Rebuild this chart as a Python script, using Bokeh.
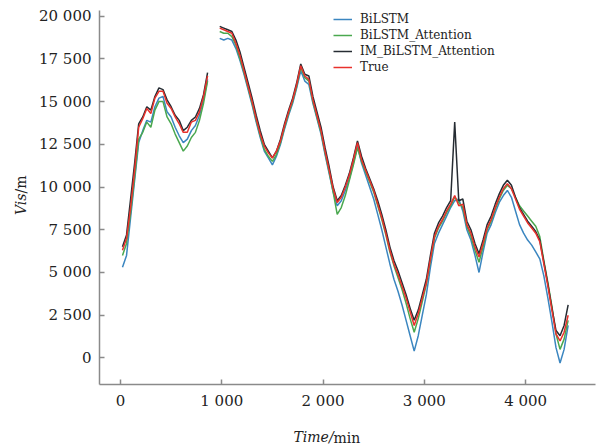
import math
import numpy as np
from bokeh.plotting import figure
from bokeh.models import FixedTicker, Label, Range1d, Legend, LegendItem, Title
from bokeh.core.enums import CoordinateUnits
from bokeh.embed import file_html
from bokeh.resources import INLINE

nan = float("nan")

# ---- data ----
time_min = [20, 60, 100, 140, 180, 220, 260, 300, 340, 380, 420, 460, 500, 540, 580, 620, 660, 700, 740, 780,
            820, 860, 900, 940, 980, 1020, 1060, 1100, 1140, 1180, 1220, 1260, 1300, 1340, 1380, 1420, 1460,
            1500, 1540, 1580, 1620, 1660, 1700, 1740, 1780, 1820, 1860, 1900, 1940, 1980, 2020, 2060, 2100,
            2140, 2180, 2220, 2260, 2300, 2340, 2380, 2420, 2460, 2500, 2540, 2580, 2620, 2660, 2700, 2740,
            2780, 2820, 2860, 2900, 2940, 2980, 3020, 3060, 3100, 3140, 3180, 3220, 3260, 3300, 3340, 3380,
            3420, 3460, 3500, 3540, 3580, 3620, 3660, 3700, 3740, 3780, 3820, 3860, 3900, 3940, 3980, 4020,
            4060, 4100, 4140, 4180, 4220, 4260, 4300, 4340, 4380, 4420]

true_vis = [6300, 7000, 8800, 11000, 13500, 14000, 14600, 14300, 15200, 15600, 15600, 14900, 14600, 14100,
            13700, 13200, 13200, 13800, 13900, 14400, 15300, 16500, nan, nan, 19300, 19200, 19100, 19000,
            18400, 17700, 16800, 15900, 15000, 14000, 13100, 12400, 12000, 11700, 12100, 12700, 13600, 14400,
            15100, 16000, 17100, 16500, 16300, 15100, 14200, 13300, 12100, 11000, 9900, 9100, 9400, 10000,
            10700, 11600, 12600, 11600, 11000, 10400, 9800, 9000, 8200, 7300, 6300, 5500, 4900, 4200, 3500,
            2700, 1900, 2600, 3500, 4400, 5800, 7100, 7700, 8100, 8600, 9000, 9500, 8900, 9000, 7800, 7300,
            6500, 5900, 6700, 7600, 8100, 8800, 9400, 9900, 10200, 9900, 9300, 8700, 8300, 7900, 7600, 7300,
            6800, 5500, 4200, 2800, 1400, 1000, 1500, 2500]

bilstm = [5300, 6000, 8200, 10400, 12600, 13300, 13900, 13800, 14700, 15200, 15300, 14400, 14100, 13500,
          13000, 12600, 12800, 13300, 13600, 14200, 15100, 16300, nan, nan, 18700, 18600, 18700, 18600,
          18100, 17400, 16600, 15700, 14800, 13800, 12900, 12100, 11700, 11300, 11800, 12500, 13400, 14200,
          14900, 15800, 16800, 16200, 16000, 14900, 14000, 13100, 11900, 10800, 9700, 8900, 9200, 9800,
          10500, 11400, 12400, 11400, 10700, 10000, 9300, 8400, 7500, 6500, 5500, 4600, 3900, 3100, 2200,
          1300, 400, 1300, 2500, 3700, 5300, 6700, 7300, 7800, 8300, 8800, 9200, 9300, 8600, 7500, 6900,
          6000, 5000, 6200, 7300, 7800, 8500, 9100, 9500, 9800, 9400, 8600, 7800, 7300, 6900, 6600, 6200,
          5800, 4800, 3500, 2100, 600, -300, 500, 1900]

bilstm_att = [6000, 6700, 8500, 10600, 12800, 13200, 13800, 13500, 14500, 15000, 15000, 14100, 13700, 13100,
              12600, 12100, 12400, 12900, 13200, 13900, 14900, 16200, nan, nan, 19100, 19000, 19000, 18800,
              18300, 17500, 16700, 15800, 14900, 13900, 13000, 12200, 11800, 11500, 11900, 12600, 13500, 14300,
              15000, 15900, 17000, 16400, 16200, 15000, 14100, 13200, 12000, 10900, 9700, 8400, 8800, 9500,
              10400, 11300, 12300, 11500, 10900, 10300, 9700, 8900, 8100, 7200, 6200, 5400, 4700, 4000, 3200,
              2300, 1500, 2300, 3300, 4300, 5700, 7000, 7600, 8000, 8500, 8900, 9400, 9100, 8800, 7700, 7100,
              6300, 5600, 6500, 7500, 8000, 8700, 9300, 9800, 10100, 9900, 9400, 8900, 8600, 8300, 8000, 7700,
              7100, 5700, 4400, 3000, 1400, 500, 1100, 2200]

im_bilstm_att = [6500, 7200, 9300, 11400, 13700, 14100, 14700, 14500, 15300, 15800, 15700, 15100, 14700, 14200,
                 13900, 13300, 13500, 13900, 14100, 14600, 15400, 16700, nan, nan, 19400, 19300, 19200, 19100,
                 18600, 17900, 17000, 16100, 15200, 14200, 13300, 12500, 12100, 11700, 12100, 12800, 13700, 14500,
                 15200, 16100, 17200, 16600, 16500, 15300, 14400, 13500, 12300, 11200, 10000, 9200, 9500, 10100,
                 10800, 11700, 12700, 11800, 11100, 10500, 9900, 9200, 8400, 7500, 6500, 5700, 5100, 4400, 3700,
                 2900, 2200, 2800, 3700, 4600, 6000, 7300, 7900, 8300, 8800, 9200, 13800, 9200, 9300, 8000, 7500,
                 6700, 6100, 6900, 7800, 8300, 9000, 9600, 10100, 10400, 10100, 9400, 8800, 8400, 8000, 7700, 7400,
                 6900, 5600, 4300, 2900, 1600, 1300, 1900, 3100]

series_names = ["BiLSTM", "BiLSTM_Attention", "IM_BiLSTM_Attention", "True"]

x_ticks = [0, 1000, 2000, 3000, 4000]
x_tick_labels = ["0", "1 000", "2 000", "3 000", "4 000"]
y_ticks = [0, 2500, 5000, 7500, 10000, 12500, 15000, 17500, 20000]
y_tick_labels = ["0", "2 500", "5 000", "7 500", "10 000", "12 500", "15 000", "17 500", "20 000"]

# ---- figure ----
FONT = "DejaVu Serif"
TXT = "#222222"
p = figure(width=600, height=444, output_backend="svg", toolbar_location=None,
           x_range=Range1d(-207, 4690), y_range=Range1d(-1555, 20330),
           min_border_left=99, min_border_right=5, min_border_top=10, min_border_bottom=58)
p.outline_line_color = None
p.grid.visible = False
p.background_fill_color = "white"

colors = ["#3b86c0", "#4aa84f", "#262c33", "#e8312c"]
ys = [bilstm, bilstm_att, im_bilstm_att, true_vis]
t = np.array(time_min, dtype=float)
renderers = []
for name, vals, col in zip(series_names, ys, colors):
    r = p.line(t, np.array(vals, dtype=float), line_color=col, line_width=1.5)
    renderers.append(r)

for ax, ticks, labels in [(p.xaxis, x_ticks, x_tick_labels), (p.yaxis, y_ticks, y_tick_labels)]:
    ax.ticker = FixedTicker(ticks=ticks)
    ax.major_label_overrides = {tk: lb for tk, lb in zip(ticks, labels)}
    ax.major_tick_in = 5
    ax.major_tick_out = 0
    ax.minor_tick_in = 0
    ax.minor_tick_out = 0
    ax.axis_line_color = "#8a8a8a"
    ax.axis_line_width = 1.5
    ax.major_tick_line_color = "#8a8a8a"
    ax.major_tick_line_width = 1.5
    ax.major_label_text_font = FONT
    ax.major_label_text_font_size = "15px"
    ax.major_label_text_color = TXT
p.xaxis.major_label_standoff = 7
p.yaxis.major_label_standoff = 8

# main legend
lg = Legend(items=[LegendItem(label=n, renderers=[r]) for n, r in zip(series_names, renderers)],
            location=(234, 309), background_fill_alpha=0, border_line_alpha=0, padding=0, margin=0,
            spacing=0, label_height=16, glyph_height=16, glyph_width=19, label_standoff=8,
            label_text_font=FONT, label_text_font_size="12px", label_text_color=TXT)
p.add_layout(lg)

units = "canvas" if "canvas" in CoordinateUnits else "screen"

# x axis title: "Time/" italic + "min" upright
p.add_layout(Label(x=293, y=436, x_units=units, y_units=units, text="Time/", text_font=FONT,
                   text_font_size="14px", text_color=TXT, text_font_style="italic",
                   text_align="left", text_baseline="middle"), "below")
p.add_layout(Title(text="min", align="left", offset=234, vertical_align="bottom", standoff=-2,
                   text_font=FONT, text_font_size="14px", text_color=TXT,
                   text_font_style="normal"), "below")

# y axis title: "Vis" italic + "/m" upright (placed in the left side panel)
ycommon = dict(x_units=units, y_units=units, text_font=FONT, text_font_size="14px", text_color=TXT,
               angle=math.pi / 2, text_baseline="middle")
p.add_layout(Label(x=20, y=193, text="Vis", text_font_style="italic", text_align="right", **ycommon), "left")
p.add_layout(Label(x=20, y=193, text="/m", text_align="left", **ycommon), "left")

open("out.html", "w").write(file_html(p, INLINE))
